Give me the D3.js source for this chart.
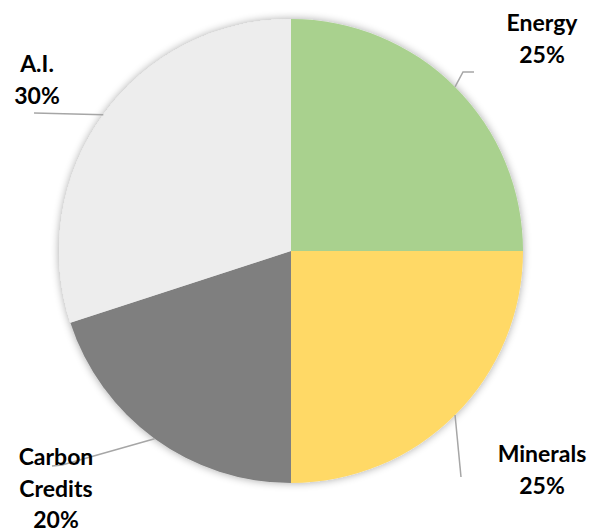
<!DOCTYPE html>
<html><head><meta charset="utf-8">
<script src="https://cdn.jsdelivr.net/npm/d3@7"></script>
<style>html,body{margin:0;padding:0;background:#fff;}svg{display:block;}</style>
</head><body>
<svg id="chart" width="592" height="531"></svg>
<script>
const categories = ["Energy", "Minerals", "Carbon Credits", "A.I."];
const values = [25, 25, 20, 30];
const colors = ["#A9D18E", "#FFD966", "#7F7F7F", "#EDEDED"];

// layout (label anchors and leader line routes)
const layout = {
  "Energy": {lines:["Energy","25%"], x:542, y:31, path:[[463,72],[474,72]]},
  "Minerals": {lines:["Minerals","25%"], x:542, y:462, path:[[461,477]]},
  "Carbon Credits": {lines:["Carbon","Credits","20%"], x:56, y:465, path:[[62,465],[52,466]]},
  "A.I.": {lines:["A.I.","30%"], x:37, y:72, path:[[34,113]]}
};

const svg = d3.select("#chart");
const cx = 291, cy = 251, R = 232;
const defs = svg.append("defs");
const f = defs.append("filter").attr("id","sh").attr("x","-20%").attr("y","-20%").attr("width","140%").attr("height","140%");
f.append("feGaussianBlur").attr("in","SourceAlpha").attr("stdDeviation",4).attr("result","b");
f.append("feOffset").attr("in","b").attr("dx",0).attr("dy",0).attr("result","o");
f.append("feComponentTransfer").attr("in","o").attr("result","o2").append("feFuncA").attr("type","linear").attr("slope",0.35);
const m = f.append("feMerge");
m.append("feMergeNode").attr("in","o2");
m.append("feMergeNode").attr("in","SourceGraphic");

const data = categories.map((c,i)=>({cat:c, value:values[i], color:colors[i]}));
const pie = d3.pie().value(d=>d.value).sort(null);
const arcs = pie(data);
const arc = d3.arc().innerRadius(0).outerRadius(R);

const g = svg.append("g").attr("transform",`translate(${cx},${cy})`);
g.append("g").attr("filter","url(#sh)").selectAll("path").data(arcs).join("path")
  .attr("d", arc).attr("fill", d=>d.data.color);

// leader lines
arcs.forEach(a=>{
  const L = layout[a.data.cat];
  const mid = (a.startAngle + a.endAngle)/2;
  const sx = cx + Math.sin(mid)*R, sy = cy - Math.cos(mid)*R;
  const pts = [[sx,sy], ...L.path];
  svg.append("path").attr("d", d3.line()(pts)).attr("fill","none")
    .attr("stroke","#A6A6A6").attr("stroke-width",1.5);
});

// labels
arcs.forEach(a=>{
  const L = layout[a.data.cat];
  const t = svg.append("text").attr("text-anchor","middle")
    .attr("font-family","Lato, 'Open Sans', sans-serif").attr("font-weight","bold")
    .attr("font-size",23).attr("fill","#000");
  L.lines.forEach((ln,i)=>{
    t.append("tspan").attr("x",L.x).attr("y",L.y + i*31.5).text(ln);
  });
});
</script>
</body></html>
